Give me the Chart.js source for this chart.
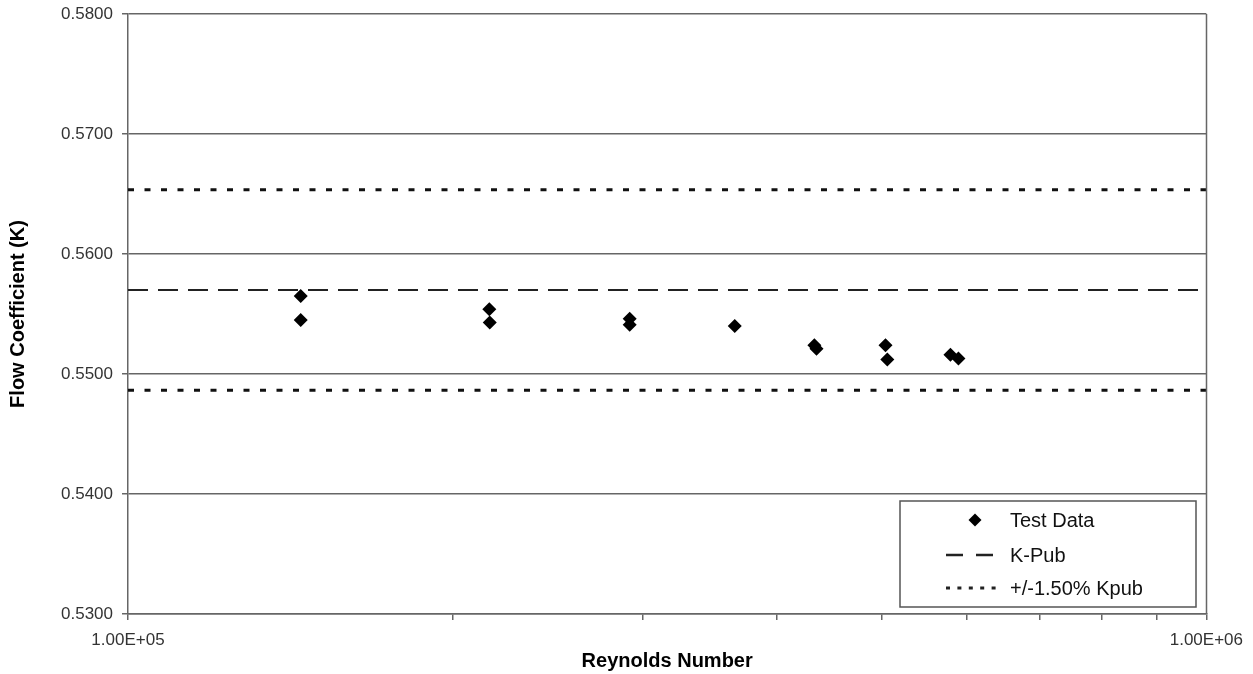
<!DOCTYPE html>
<html>
<head>
<meta charset="utf-8">
<title>Flow Coefficient vs Reynolds Number</title>
<script src="https://cdn.jsdelivr.net/npm/chart.js@4.4.1/dist/chart.umd.min.js"></script>
<style>
  html, body { margin: 0; padding: 0; background: #fff; }
  #wrap { position: relative; width: 1253px; height: 674px; }
</style>
</head>
<body>
<div id="wrap"><canvas id="grafica"></canvas></div>
<script>
// ---- datos ----
const reynolds = [1.446e5, 1.446e5, 2.163e5, 2.165e5, 2.919e5, 2.919e5, 3.653e5, 4.33e5, 4.35e5, 5.04e5, 5.06e5, 5.79e5, 5.89e5];
const coefK    = [0.5565, 0.5545, 0.5554, 0.5543, 0.5546, 0.5541, 0.5540, 0.5524, 0.5521, 0.5524, 0.5512, 0.5516, 0.5513];

const lineaX     = [1e5, 1e6];
const kPub       = [0.5570, 0.5570];
const kPubAlto   = [0.56536, 0.56536];
const kPubBajo   = [0.54865, 0.54865];

// marcas del eje x (solo las decadas llevan texto)
const xTickValues  = [1e5, 2e5, 3e5, 4e5, 5e5, 6e5, 7e5, 8e5, 9e5, 1e6];
const xMajorTicks  = [1e5, 1e6];
const xMajorLabels = ['1.00E+05', '1.00E+06'];

const legendLabels = ['Test Data', 'K-Pub', '+/-1.50% Kpub'];

const FONT = 'Arial, "Liberation Sans", sans-serif';
const GRID = '#666';

const toPts = (xs, ys) => xs.map((x, i) => ({ x: x, y: ys[i] }));

// leyenda dibujada dentro del area de la grafica
const legendBox = {
    id: 'legendBox',
    afterDraw(chart) {
        const ctx = chart.ctx;
        const ca = chart.chartArea;
        // borde derecho del area
        ctx.save();
        ctx.strokeStyle = GRID;
        ctx.lineWidth = 1.5;
        ctx.beginPath();
        ctx.moveTo(Math.round(ca.right) + 0.5, ca.top);
        ctx.lineTo(Math.round(ca.right) + 0.5, ca.bottom);
        ctx.stroke();

        const bx = 900, by = 501, bw = 296, bh = 106;
        ctx.fillStyle = '#fff';
        ctx.fillRect(bx, by, bw, bh);
        ctx.strokeStyle = '#555';
        ctx.lineWidth = 1.5;
        ctx.strokeRect(bx, by, bw, bh);

        const rows = [520, 555, 588];
        // diamante
        ctx.fillStyle = '#000';
        ctx.beginPath();
        ctx.moveTo(975, rows[0] - 6.5);
        ctx.lineTo(981.5, rows[0]);
        ctx.lineTo(975, rows[0] + 6.5);
        ctx.lineTo(968.5, rows[0]);
        ctx.closePath();
        ctx.fill();
        // guiones
        ctx.strokeStyle = '#222';
        ctx.lineWidth = 2.5;
        ctx.setLineDash([17, 13]);
        ctx.beginPath();
        ctx.moveTo(946, rows[1]);
        ctx.lineTo(995, rows[1]);
        ctx.stroke();
        // puntos
        ctx.lineWidth = 3;
        ctx.setLineDash([4, 7.4]);
        ctx.beginPath();
        ctx.moveTo(946, rows[2]);
        ctx.lineTo(1000, rows[2]);
        ctx.stroke();
        ctx.setLineDash([]);

        ctx.fillStyle = '#111';
        ctx.font = '20px ' + FONT;
        ctx.textAlign = 'left';
        ctx.textBaseline = 'middle';
        legendLabels.forEach((t, i) => ctx.fillText(t, 1010, rows[i] + 1));
        ctx.restore();
    }
};

const ctx = document.getElementById('grafica').getContext('2d');
new Chart(ctx, {
    type: 'scatter',
    data: {
        datasets: [
            {
                label: 'Test Data',
                data: toPts(reynolds, coefK),
                pointStyle: 'rectRot',
                pointRadius: 7,
                pointHoverRadius: 7,
                backgroundColor: '#000',
                borderWidth: 0,
                order: 0
            },
            {
                label: 'K-Pub',
                data: toPts(lineaX, kPub),
                showLine: true,
                pointRadius: 0,
                borderColor: '#222',
                borderWidth: 2,
                borderDash: [20, 10],
                order: 1
            },
            {
                label: '+/-1.50% Kpub',
                data: toPts(lineaX, kPubAlto),
                showLine: true,
                pointRadius: 0,
                borderColor: '#111',
                borderWidth: 3,
                borderDash: [6, 10.5],
                order: 1
            },
            {
                label: '+/-1.50% Kpub (bajo)',
                data: toPts(lineaX, kPubBajo),
                showLine: true,
                pointRadius: 0,
                borderColor: '#111',
                borderWidth: 3,
                borderDash: [6, 10.5],
                order: 1
            }
        ]
    },
    options: {
        responsive: true,
        maintainAspectRatio: false,
        animation: false,
        layout: { padding: { left: 0, top: 14, right: 46, bottom: 0 } },
        scales: {
            x: {
                type: 'logarithmic',
                min: 1e5,
                max: 1e6,
                afterBuildTicks: (s) => { s.ticks = xTickValues.map(v => ({ value: v })); },
                afterFit: (s) => { s.height = 60; },
                grid: { drawOnChartArea: false, drawTicks: true, tickLength: 6, color: GRID, lineWidth: 1.5 },
                border: { display: true, color: GRID, width: 1.5 },
                ticks: {
                    autoSkip: false,
                    maxRotation: 0,
                    padding: 10,
                    color: '#333',
                    font: { family: FONT, size: 17 },
                    callback: function(value) {
                        const i = xMajorTicks.findIndex(t => Math.abs(t - value) / t < 1e-6);
                        return i >= 0 ? xMajorLabels[i] : '';
                    }
                },
                title: {
                    display: true,
                    text: 'Reynolds Number',
                    color: '#000',
                    font: { family: FONT, size: 20, weight: 'bold' },
                    padding: { top: 0, bottom: 1 }
                }
            },
            y: {
                min: 0.53,
                max: 0.58,
                afterFit: (s) => { s.width = 128; s.paddingTop = 0; s.paddingBottom = 0; },
                grid: { drawOnChartArea: true, drawTicks: true, tickLength: 6, color: GRID, lineWidth: 1.5 },
                border: { display: true, color: GRID, width: 1.5 },
                ticks: {
                    stepSize: 0.01,
                    padding: 9,
                    color: '#333',
                    font: { family: FONT, size: 17 },
                    callback: (v) => v.toFixed(4)
                },
                title: {
                    display: true,
                    text: 'Flow Coefficient (K)',
                    color: '#000',
                    font: { family: FONT, size: 20, weight: 'bold' },
                    padding: { top: 6, bottom: 0 }
                }
            }
        },
        plugins: {
            legend: { display: false },
            tooltip: { enabled: false }
        }
    },
    plugins: [legendBox]
});
</script>
</body>
</html>
